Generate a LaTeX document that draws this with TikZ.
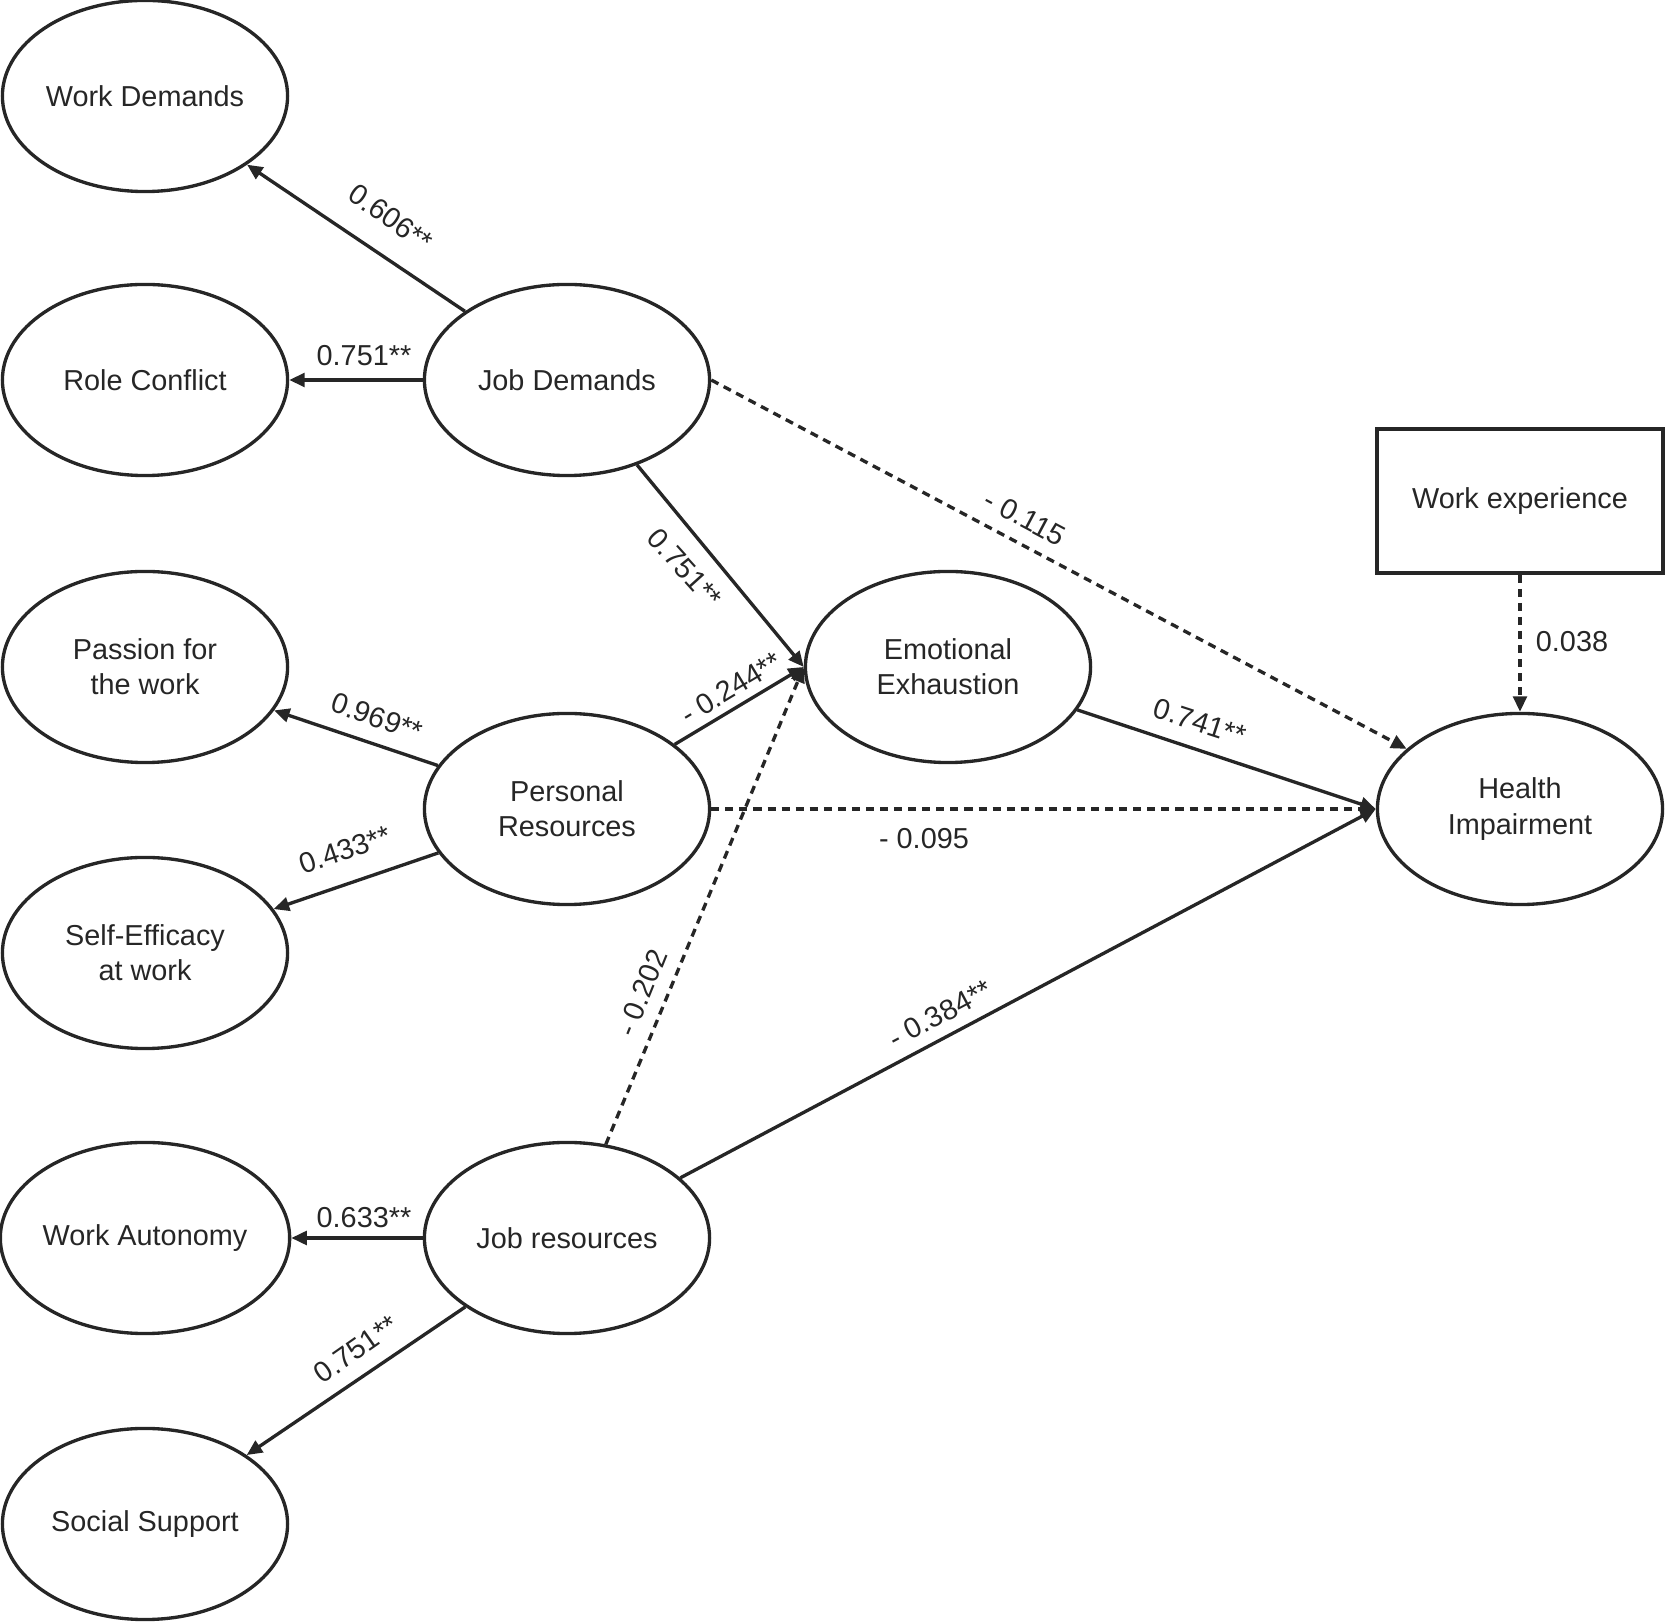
\documentclass[tikz,border=0pt]{standalone}
\usepackage{fontspec}
\setmainfont{Liberation Sans}
\usetikzlibrary{shapes.geometric,arrows.meta}
\definecolor{ink}{HTML}{262626}
\begin{document}
\begin{tikzpicture}[x=0.01cm,y=-0.01cm,
  every node/.style={text=ink, font=\fontsize{8.2}{10}\selectfont},
  latent/.style={draw=ink, line width=0.95pt, ellipse, minimum width=2.85cm, minimum height=1.91cm, inner sep=0pt, align=center},
  observed/.style={draw=ink, line width=0.95pt, rectangle, minimum width=2.86cm, minimum height=1.44cm, inner sep=0pt},
  arr/.style={draw=ink, line width=0.95pt, -{Triangle[length=4.4pt,width=3.9pt]}},
  dsh/.style={arr, dash pattern=on 2.3pt off 1.7pt},
  lbl/.style={inner sep=1pt}
]
\useasboundingbox (0,0) rectangle (1665,1622);
\node[latent] (WD) at (145,96) {Work Demands};
\node[latent] (RC) at (145,380) {Role Conflict};
\node[latent] (JD) at (567,380) {Job Demands};
\node[latent] (PW) at (145,667) {Passion for\\the work};
\node[latent] (PR) at (567,809) {Personal\\Resources};
\node[latent] (SE) at (145,953) {Self-Efficacy\\at work};
\node[latent] (EE) at (948,667) {Emotional\\Exhaustion};
\node[observed] (WE) at (1520,501) {Work experience};
\node[latent] (HI) at (1520,809) {Health\\Impairment};
\node[latent] (WA) at (145,1238) {Work Autonomy};
\node[latent] (JR) at (567,1238) {Job resources};
\node[latent] (SS) at (145,1524) {Social Support};

\draw[arr] (JD) -- (WD) node[lbl, rotate=-35] at (391,218) {0.606**};
\draw[arr] (JD) -- (RC) node[lbl] at (364,356) {0.751**};
\draw[arr] (JD) -- (EE.west) node[lbl, rotate=-48] at (685,568) {0.751**};
\draw[dsh] (JD.east) -- (HI) node[lbl, rotate=-28] at (1025,518) {- 0.115};
\draw[arr] (PR) -- (PW) node[lbl, rotate=-19] at (377,717) {0.969**};
\draw[arr] (PR) -- (SE) node[lbl, rotate=19] at (345,850) {0.433**};
\draw[arr] (PR) -- (EE.west) node[lbl, rotate=31] at (731,688) {- 0.244**};
\draw[dsh] (PR) -- (HI.west) node[lbl] at (924,839) {- 0.095};
\draw[arr] (EE) -- (HI.west) node[lbl, rotate=-18] at (1200,722) {0.741**};
\draw[dsh] (WE.south) -- (HI.north) node[lbl] at (1572,642) {0.038};
\draw[dsh] (JR) -- (EE.west) node[lbl, rotate=68] at (642,993) {- 0.202};
\draw[arr] (JR) -- (HI.west) node[lbl, rotate=28] at (940,1014) {- 0.384**};
\draw[arr] (JR) -- (WA) node[lbl] at (364,1218) {0.633**};
\draw[arr] (JR) -- (SS) node[lbl, rotate=35] at (356,1349) {0.751**};
\end{tikzpicture}
\end{document}
